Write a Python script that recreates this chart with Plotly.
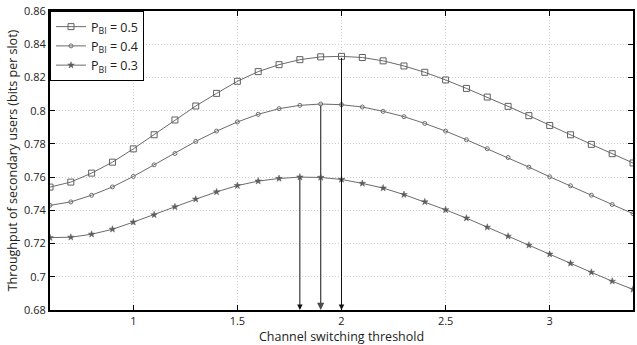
import plotly.graph_objects as go

# ---- data ----
x_vals = [0.6, 0.7, 0.8, 0.9, 1.0, 1.1, 1.2, 1.3, 1.4, 1.5, 1.6, 1.7, 1.8, 1.9, 2.0,
          2.1, 2.2, 2.3, 2.4, 2.5, 2.6, 2.7, 2.8, 2.9, 3.0, 3.1, 3.2, 3.3, 3.4]

p05 = [0.7540, 0.7570, 0.7624, 0.7690, 0.7770, 0.7855, 0.7944, 0.8028, 0.8104, 0.8177,
       0.8235, 0.8277, 0.8307, 0.8324, 0.8327, 0.8320, 0.8300, 0.8269, 0.8231, 0.8185,
       0.8134, 0.8082, 0.8026, 0.7970, 0.7911, 0.7855, 0.7797, 0.7741, 0.7685]

p04 = [0.7430, 0.7451, 0.7491, 0.7541, 0.7604, 0.7674, 0.7742, 0.7815, 0.7877, 0.7932,
       0.7978, 0.8012, 0.8032, 0.8040, 0.8036, 0.8022, 0.7996, 0.7964, 0.7923, 0.7877,
       0.7825, 0.7771, 0.7718, 0.7660, 0.7602, 0.7548, 0.7491, 0.7435, 0.7380]

p03 = [0.7236, 0.7238, 0.7256, 0.7286, 0.7329, 0.7373, 0.7421, 0.7467, 0.7511, 0.7549,
       0.7576, 0.7592, 0.7600, 0.7598, 0.7586, 0.7562, 0.7534, 0.7495, 0.7451, 0.7403,
       0.7353, 0.7298, 0.7244, 0.7190, 0.7136, 0.7081, 0.7027, 0.6973, 0.6924]

series_names = ["P<sub>BI</sub> = 0.5", "P<sub>BI</sub> = 0.4", "P<sub>BI</sub> = 0.3"]
arrow_x = [2.0, 1.9, 1.8]   # optimal thresholds for P=0.5, 0.4, 0.3

x_ticks = [1, 1.5, 2, 2.5, 3]
x_tick_labels = ["1", "1.5", "2", "2.5", "3"]
y_ticks = [0.68, 0.70, 0.72, 0.74, 0.76, 0.78, 0.80, 0.82, 0.84, 0.86]
y_tick_labels = ["0.68", "0.7", "0.72", "0.74", "0.76", "0.78", "0.8", "0.82", "0.84", "0.86"]

# ---- styles ----
FONT = "Open Sans"
line_col = "#6b6b6b"
styles = [
    dict(symbol="square-open", size=6, color="#606060", line=dict(width=1, color="#606060")),
    dict(symbol="circle-open", size=4, color="#707070", line=dict(width=1, color="#707070")),
    dict(symbol="star", size=5, color="#5c5c5c", line=dict(width=0.5, color="#5c5c5c")),
]
arrow_cols = ["#111111", "#4a4a4a", "#111111"]
arrow_w = [1.0, 1.3, 1.0]

fig = go.Figure()
all_series = [p05, p04, p03]
for name, ys, st in zip(series_names, all_series, styles):
    fig.add_trace(go.Scatter(
        x=x_vals, y=ys, mode="lines+markers", name=name,
        line=dict(color=line_col, width=1),
        marker=st,
    ))

# arrows from peaks down to the x axis
y_bottom = y_ticks[0]
for ax_x, ys, col, w in zip(arrow_x, all_series, arrow_cols, arrow_w):
    idx = min(range(len(x_vals)), key=lambda i: abs(x_vals[i] - ax_x))
    fig.add_annotation(
        x=ax_x, y=y_bottom, ax=ax_x, ay=ys[idx],
        xref="x", yref="y", axref="x", ayref="y",
        showarrow=True, arrowhead=2, arrowsize=1.1, arrowwidth=w,
        arrowcolor=col, standoff=0, startstandoff=0, text="",
    )

axis_common = dict(
    showline=True, linecolor="black", linewidth=2, mirror="ticks",
    ticks="inside", ticklen=5, tickcolor="black", tickwidth=1,
    showgrid=True, gridcolor="#cfcfcf", griddash="1px,2px", gridwidth=1,
    zeroline=False,
    tickfont=dict(family=FONT, size=11, color="#222"),
)

fig.update_xaxes(
    range=[0.6, 3.4], tickvals=x_ticks, ticktext=x_tick_labels,
    title=dict(text="Channel switching threshold", font=dict(family=FONT, size=12.5, color="#222"), standoff=1),
    **axis_common,
)
fig.update_yaxes(
    range=[0.68, 0.86], tickvals=y_ticks, ticktext=y_tick_labels,
    title=dict(text="Throughput of secondary users (bits per slot)", font=dict(family=FONT, size=12.5, color="#222"), standoff=4),
    **axis_common,
)

fig.update_layout(
    width=637, height=345,
    margin=dict(l=50, r=2, t=11, b=35),
    paper_bgcolor="white", plot_bgcolor="white",
    font=dict(family=FONT, size=12, color="#222"),
    legend=dict(
        x=0, y=1, xanchor="left", yanchor="top",
        bgcolor="white", bordercolor="black", borderwidth=1,
        font=dict(family=FONT, size=12.5, color="#222"),
        itemwidth=30, tracegroupgap=0,
    ),
    showlegend=True,
)

fig.write_html("out.html", config={"displayModeBar": False},
               post_script="document.body.style.margin='0';")
